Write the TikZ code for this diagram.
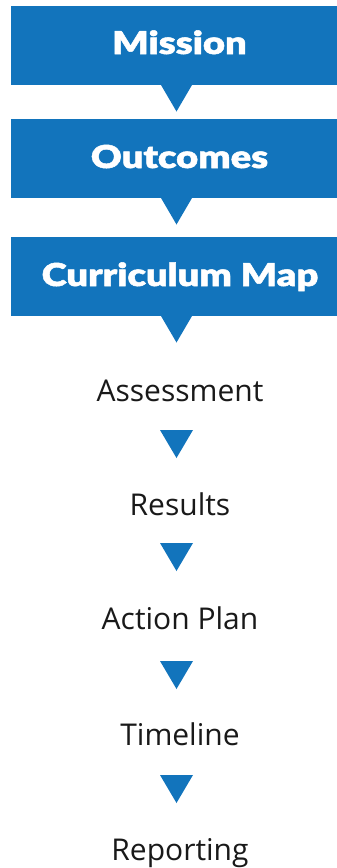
\documentclass[tikz,border=0pt]{standalone}
\usepackage{fontspec}
\setmainfont{Open Sans}
\IfFontExistsTF{Lato Black}{\newfontfamily\heavy{Lato Black}[FakeStretch=1.21,FakeBold=1.6]}{\newfontfamily\heavy{Open Sans}[UprightFont=* ExtraBold,FakeStretch=1.15]}
\definecolor{stepblue}{RGB}{18,116,188}
\begin{document}
\begin{tikzpicture}[x=1pt,y=-1pt,
  boxshape/.style={fill=stepblue, draw=none},
  boxtext/.style={anchor=base, inner sep=0pt, text=white, font=\heavy\fontsize{31.5}{33}\selectfont},
  steptext/.style={anchor=base, inner sep=0pt, text=black!90, font=\fontsize{30}{32}\selectfont},
  tri/.style={fill=stepblue, draw=none}]
\useasboundingbox (0,0) rectangle (337,868);
% boxes
\fill[boxshape] (11,6) rectangle (337,85);
\fill[boxshape] (11,119) rectangle (337,198);
\fill[boxshape] (11,237) rectangle (337,316);
\node[boxtext] (mission) at (179.5,54) {Mission};
\node[boxtext] (outcomes) at (179.5,168) {Outcomes};
\node[boxtext] (map) at (180,286) {Curriculum Map};
% triangles below boxes
\foreach \t in {85,198,316}{
  \fill[tri] (161,\t) -- (192,\t) -- (176.5,\t+26.5) -- cycle;
}
% plain steps
\node[steptext] (assess) at (180,401) {Assessment};
\node[steptext] (results) at (180,515) {Results};
\node[steptext] (action) at (180,629) {Action Plan};
\node[steptext] (timeline) at (180,745) {Timeline};
\node[steptext] (report) at (180,860) {Reporting};
\foreach \t in {430,543,661,775}{
  \fill[tri] (160,\t) -- (193,\t) -- (176.5,\t+28) -- cycle;
}
\end{tikzpicture}
\end{document}
